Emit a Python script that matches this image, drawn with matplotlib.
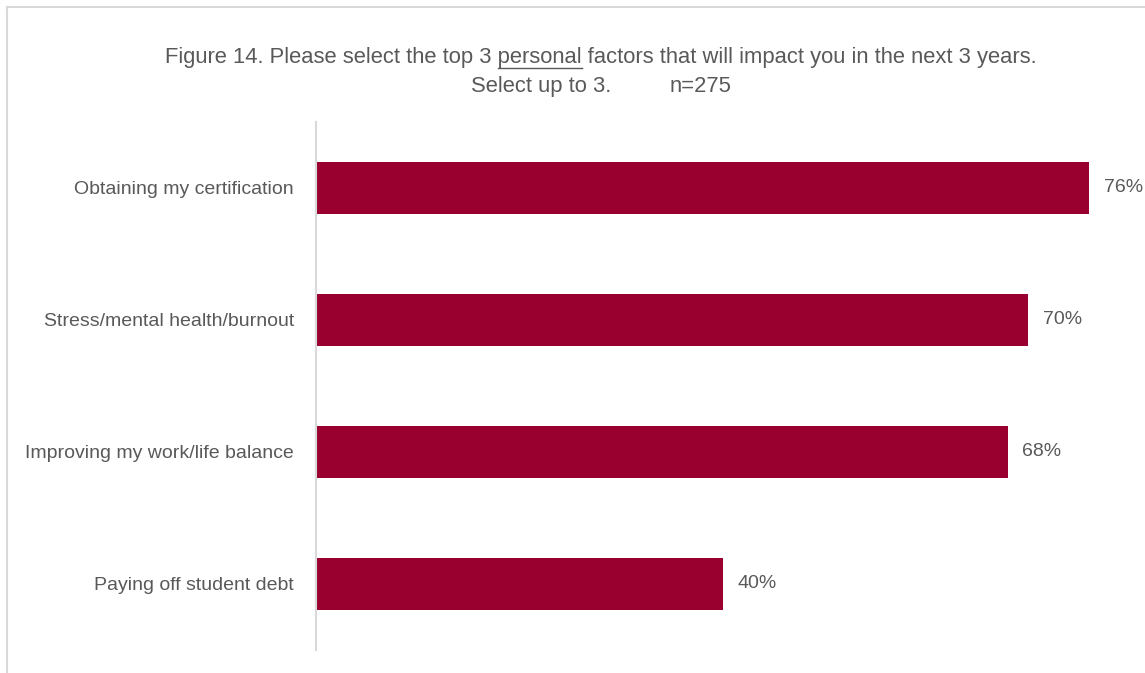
import matplotlib
matplotlib.use("Agg")
import matplotlib.pyplot as plt
from matplotlib.lines import Line2D

plt.rcParams["font.family"] = ["Liberation Sans", "DejaVu Sans"]

# data
categories = [
    "Obtaining my certification",
    "Stress/mental health/burnout",
    "Improving my work/life balance",
    "Paying off student debt",
]
values = [76, 70, 68, 40]

BAR_COLOR = "#990030"
TEXT_COLOR = "#595959"
GRID_COLOR = "#d9d9d9"
TITLE_FS = 15.8
LABEL_FS = 14

W, H = 1145, 673
fig = plt.figure(figsize=(W / 100, H / 100), dpi=100)

# outer frame (only top/left visible in the crop)
fig.add_artist(Line2D([7 / W, 1], [1 - 7 / H, 1 - 7 / H], transform=fig.transFigure,
                      color=GRID_COLOR, linewidth=1.5))
fig.add_artist(Line2D([7 / W, 7 / W], [0, 1 - 7 / H], transform=fig.transFigure,
                      color=GRID_COLOR, linewidth=1.5))

ax = fig.add_axes([316 / W, 23 / H, (W - 316) / W, (650 - 122) / H])
y = list(range(len(categories)))
ax.barh(y, values, height=0.394, color=BAR_COLOR)
ax.set_ylim(len(categories) - 0.5, -0.5)
ax.set_xlim(0, (W - 316) / 10.17)

for yi, v in zip(y, values):
    ax.text(v + 1.45, yi, f"{v}%", va="center", ha="left", fontsize=LABEL_FS, color=TEXT_COLOR)

ax.set_yticks(y)
ax.set_yticklabels(categories, fontsize=LABEL_FS, color=TEXT_COLOR)
ax.tick_params(axis="y", length=0, pad=16)
ax.set_xticks([])
for s in ["top", "right", "bottom"]:
    ax.spines[s].set_visible(False)
ax.spines["left"].set_color(GRID_COLOR)
ax.spines["left"].set_linewidth(1.5)

# title with underlined "personal"
cx = 601 / W
line1 = "Figure 14. Please select the top 3 personal factors that will impact you in the next 3 years."
t1 = fig.text(cx, 1 - 63 / H, line1, ha="center", va="baseline", fontsize=TITLE_FS, color=TEXT_COLOR)
fig.text(471 / W, 1 - 92 / H, "Select up to 3.", ha="left", va="baseline",
         fontsize=TITLE_FS, color=TEXT_COLOR)
fig.text(670 / W, 1 - 92 / H, "n=275", ha="left", va="baseline",
         fontsize=TITLE_FS, color=TEXT_COLOR)

fig.canvas.draw()
renderer = fig.canvas.get_renderer()
bb = t1.get_window_extent(renderer)


def text_width(s):
    tmp = fig.text(0, 0, s, fontsize=TITLE_FS)
    w = tmp.get_window_extent(renderer).width
    tmp.remove()
    return w


pre = "Figure 14. Please select the top 3 personal"
x_end = bb.x0 + text_width(pre)
x_start = x_end - text_width("personal")
y_ul = H - 68
fig.add_artist(Line2D([x_start / W, x_end / W], [y_ul / H, y_ul / H], transform=fig.transFigure,
                      color=TEXT_COLOR, linewidth=1))

fig.savefig("out.png", dpi=100)
